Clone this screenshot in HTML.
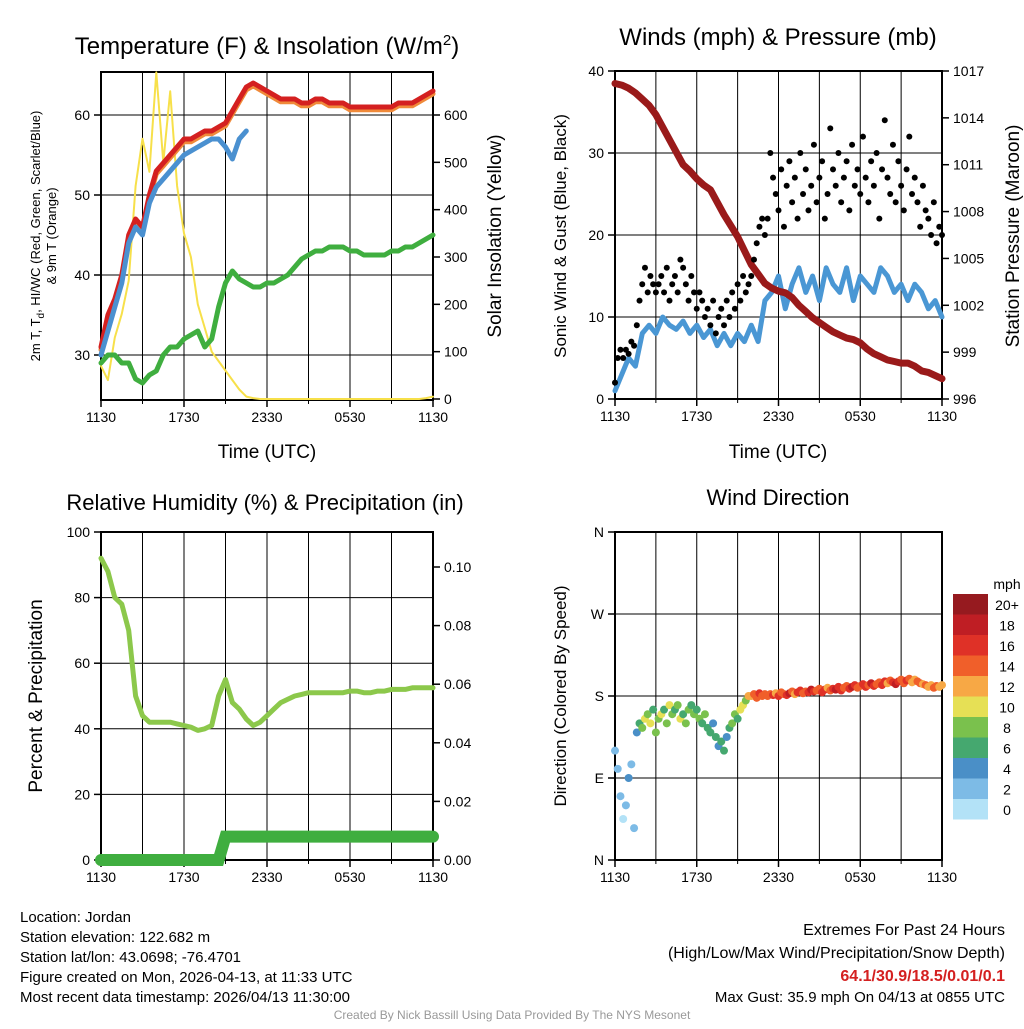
<!DOCTYPE html>
<html><head><meta charset="utf-8"><style>
body{margin:0;background:#fff;width:1024px;height:1024px;overflow:hidden;font-family:"Liberation Sans",sans-serif}
svg text{font-family:"Liberation Sans",sans-serif}
</style></head><body>
<svg id="s" width="1024" height="1024" viewBox="0 0 1024 1024" xmlns="http://www.w3.org/2000/svg"></svg>
<script>
const xTickLabels=["1130","1730","2330","0530","1130"];
const tempT=[31,35,37,40,45,47,46,50,53,54,55,56,57,57,57.5,58,58,58.5,59,60.5,62,63.5,64,63.5,63,62.5,62,62,62,61.5,61.5,62,62,61.5,61.5,61.5,61,61,61,61,61,61,61,61.5,61.5,61.5,62,62.5,63];
const heatIdx=[30,33,36,39,44,46,45,49,51,52,53,54,55,55.5,56,56.5,57,57,56,54.5,57,58];
const dewT=[29,30,30,29,29,27,26.5,27.5,28,30,31,31,32,32.5,33,31,32,36,39,40.5,39.5,39,38.5,38.5,39,39,39.5,40,41,42,42.5,43,43,43.5,43.5,43.5,43,43,42.5,42.5,42.5,42.5,43,43,43.5,43.5,44,44.5,45];
const solar=[70,40,130,180,250,450,550,480,690,500,650,450,350,300,200,150,100,80,60,40,20,5,2,0,0,0,0,0,0,0,0,0,0,0,0,0,0,0,0,0,0,0,0,0,0,0,0,2,5];
const pressure=[1016.2,1016.1,1015.9,1015.6,1015.2,1014.8,1014.2,1013.4,1012.6,1011.8,1011,1010.6,1010.1,1009.7,1009.4,1008.6,1007.8,1007.1,1006.4,1005.5,1004.6,1004,1003.4,1003.1,1002.9,1002.8,1002.5,1002,1001.6,1001.2,1000.9,1000.6,1000.3,1000.1,999.9,999.8,999.6,999.2,998.9,998.7,998.5,998.4,998.3,998.3,998.1,997.8,997.7,997.5,997.3];
const sonicWind=[1,3,5,4,8,9,8,10,9,8.5,9.5,8,9,7.5,8.5,6.5,8,6.5,8,7,9,7,12,13,15,11,14,16,13,15,12,16,14,13,16,12,15,14,13,16,15,13,14,12,14,13,11,12,10];
const gust=[2,5,6,5,6,5.5,7,6.5, 9,12,14,16,13,15,14,13, 14,15,13,16,12,14,15,13,17,16,14,12,15,13, 11,13,12,10,11,9,12,8,10,11, 9,12,10,13,11,14,12,15,13,14, 15,17,19,21,22,20,
22,30,27,25,23,28,21,26,29,24,27,22,30,25,28,23,26,31,24,27,29,22,25,33,28,26,30,24,27,29,23,31,26,28,25,32,27,24,29,26,30,22,28,34,27,25,31,24,29,26,23,28,32,25,27,24,21,26,23,22,20,24,19,21,20];
const rh=[92,88,80,78,70,50,44,42,42,42,42,41.5,41,40.5,39.5,40,41,50,55,48,46,43,41,42,44,46,48,49,50,50.5,51,51,51,51,51,51,51.5,51.5,51,51,51.5,51.5,52,52,52,52.5,52.5,52.5,52.5];
const precip=[0,0,0,0,0,0,0,0,0,0,0,0,0,0,0,0,0,0,0.008,0.008,0.008,0.008,0.008,0.008,0.008,0.008,0.008,0.008,0.008,0.008,0.008,0.008,0.008,0.008,0.008,0.008,0.008,0.008,0.008,0.008,0.008,0.008,0.008,0.008,0.008,0.008,0.008,0.008,0.008];
const windDir=[120,100,70,45,60,90,105,35, 140,150,145,155,160,150,165,140, 155,160,165,150,170,160,165,170,155,160,150,165,170,160, 165,155,150,160,145,140,150,135,125,130, 120,135,145,150,160,155,165,170,175,180, 180,182,178,183,180,182,
180,182,181,183,180,184,182,181,183,185,182,184,186,183,185,184,187,185,186,188,184,187,189,186,188,187,190,186,189,191,188,190,192,189,191,193,190,192,194,191,193,195,192,196,194,197,195,193,196,198,194,197,199,195,198,196,194,193,192,190,192,189,191,190,192];
const windSpd=[2,3,2,1,3,4,2,3, 5,7,9,10,8,11,7,9, 8,10,7,9,11,8,6,9,10,7,8,9,6,8, 7,8,6,9,7,6,5,7,5,6, 6,5,7,8,9,7,10,11,9,12, 13,14,15,16,14,15,
14,15,16,13,17,15,14,16,18,15,13,16,17,14,15,16,18,17,15,14,16,17,13,15,16,18,17,16,15,14,17,18,16,15,14,16,17,15,18,16,14,15,17,16,13,15,16,18,17,15,14,16,15,13,12,14,15,13,14,12,13,15,14,12,13];
const spdLabels=["0","2","4","6","8","10","12","14","16","18","20+"];
const spdColors=["#b3e2f7","#7dbbe6","#4a8fc7","#45a86f","#7ac14d","#e6e055","#f7a845","#f05f2a","#df3127","#bf1e24","#961a1f"];

const S=document.getElementById('s');const NS='http://www.w3.org/2000/svg';
function el(tag,at,parent){const e=document.createElementNS(NS,tag);for(const k in at)e.setAttribute(k,at[k]);(parent||S).appendChild(e);return e;}
function txt(x,y,s,size,anchor,extra){const e=el('text',Object.assign({x:x,y:y,'font-size':size,'text-anchor':anchor||'middle',fill:'#000'},extra||{}));e.textContent=s;return e;}
function panel(x0,x1,y0,y1){return {x0,x1,y0,y1,xs:t=>x0+(x1-x0)*t/24};}
function lin(v0,p0,v1,p1){return v=>p0+(v-v0)*(p1-p0)/(v1-v0);}
function path(arr,xs,ys,step,style,name){let d='';arr.forEach((v,i)=>{d+=(i?'L':'M')+xs(i*step).toFixed(1)+','+ys(v).toFixed(1);});const p=el('path',Object.assign({d:d,fill:'none','stroke-linejoin':'round','stroke-linecap':'round'},style));return p;}
function frame(P,yTicksL,ysL,labL,yTicksR,ysR,labR,gridL,name){
  const g=el('g',{});
  for(let h=3;h<24;h+=3){const x=P.xs(h);el('line',{x1:x,x2:x,y1:P.y0,y2:P.y1,stroke:'#000','stroke-width':1},g);}
  if(gridL)yTicksL.forEach(v=>{const y=ysL(v);el('line',{x1:P.x0,x2:P.x1,y1:y,y2:y,stroke:'#000','stroke-width':1},g);});
  el('rect',{x:P.x0,y:P.y0,width:P.x1-P.x0,height:P.y1-P.y0,fill:'none',stroke:'#000','stroke-width':2},g);
  yTicksL.forEach((v,i)=>{const y=ysL(v);el('line',{x1:P.x0-7,x2:P.x0,y1:y,y2:y,stroke:'#000','stroke-width':1.5},g);txt(P.x0-11,y+5,labL[i],14,'end');});
  if(yTicksR)yTicksR.forEach((v,i)=>{const y=ysR(v);el('line',{x1:P.x1,x2:P.x1+7,y1:y,y2:y,stroke:'#000','stroke-width':1.5},g);txt(P.x1+11,y+5,labR[i],14,'start');});
  xTickLabels.forEach((l,i)=>{const x=P.xs(i*6);el('line',{x1:x,x2:x,y1:P.y1,y2:P.y1+7,stroke:'#000','stroke-width':1.5},g);txt(x,P.y1+22,l,14);});
  for(let h=3;h<24;h+=6){const x=P.xs(h);el('line',{x1:x,x2:x,y1:P.y1,y2:P.y1+4,stroke:'#000','stroke-width':1},g);}
}
// Panel 1
const P1=panel(101,433,72,400);const y1L=lin(30,355,60,115);const y1R=lin(0,399,600,115);
frame(P1,[30,40,50,60],y1L,["30","40","50","60"],[0,100,200,300,400,500,600],y1R,["0","100","200","300","400","500","600"],true,'temperature-axes');
path(solar,P1.xs,y1R,0.5,{stroke:'#f7e04a','stroke-width':2},'solar-line');
path(dewT,P1.xs,y1L,0.5,{stroke:'#3fae3f','stroke-width':5},'dewpoint-line');
path(tempT.map(v=>v-0.35),P1.xs,y1L,0.5,{stroke:'#f08a3a','stroke-width':5},'temp-9m-line');
path(tempT,P1.xs,y1L,0.5,{stroke:'#d42020','stroke-width':5},'temp-2m-line');
path(heatIdx,P1.xs,y1L,0.5,{stroke:'#4a90d0','stroke-width':5},'heat-index-line');
txt(267,54,'',24).innerHTML='Temperature (F) &amp; Insolation (W/m<tspan dy="-9" font-size="15">2</tspan><tspan dy="9">)</tspan>';
txt(267,458,'Time (UTC)',19);
const yl=txt(0,0,'',13,'middle',{transform:'translate(40,236) rotate(-90)'});yl.innerHTML='2m T, T<tspan dy="4" font-size="10">d</tspan><tspan dy="-4">, HI/WC (Red, Green, Scarlet/Blue)</tspan>';
txt(0,0,'& 9m T (Orange)',13,'middle',{transform:'translate(56,236) rotate(-90)'});
txt(0,0,'Solar Insolation (Yellow)',19,'middle',{transform:'translate(501,236) rotate(-90)'});
// Panel 2
const P2=panel(615,942,71,399);const y2L=lin(0,399,40,71);const y2R=lin(996,399,1017,71);
frame(P2,[0,10,20,30,40],y2L,["0","10","20","30","40"],[996,999,1002,1005,1008,1011,1014,1017],y2R,["996","999","1002","1005","1008","1011","1014","1017"],true,'wind-axes');
path(sonicWind,P2.xs,y2L,0.5,{stroke:'#4a97d4','stroke-width':5},'sonic-wind-line');
path(pressure,P2.xs,y2R,0.5,{stroke:'#9a1a1a','stroke-width':7},'pressure-line');
gust.forEach((v,i)=>{const c=el('circle',{cx:P2.xs(i*0.2),cy:y2L(v),r:3,fill:'#000'});

});
txt(778,45,'Winds (mph) & Pressure (mb)',24);
txt(778,458,'Time (UTC)',19);
txt(0,0,'Sonic Wind & Gust (Blue, Black)',17,'middle',{transform:'translate(566,236) rotate(-90)'});
txt(0,0,'Station Pressure (Maroon)',19,'middle',{transform:'translate(1019,236) rotate(-90)'});
// Panel 3
const P3=panel(101,433,532,860);const y3L=lin(0,860,100,532);const y3R=lin(0,860,0.10,567);
frame(P3,[0,20,40,60,80,100],y3L,["0","20","40","60","80","100"],[0,0.02,0.04,0.06,0.08,0.10],y3R,["0.00","0.02","0.04","0.06","0.08","0.10"],true,'humidity-axes');
path(rh,P3.xs,y3L,0.5,{stroke:'#8cc84b','stroke-width':5},'rh-line');
path(precip,P3.xs,y3R,0.5,{stroke:'#3fae3f','stroke-width':12,'stroke-linejoin':'miter'},'precip-line');
txt(265,510,'Relative Humidity (%) & Precipitation (in)',22);
txt(0,0,'Percent & Precipitation',19,'middle',{transform:'translate(42,696) rotate(-90)'});
// Panel 4
const P4=panel(615,942,532,860);const y4=lin(0,860,360,532);
frame(P4,[0,90,180,270,360],y4,["N","E","S","W","N"],null,null,null,true,'direction-axes');
windDir.forEach((v,i)=>{const b=Math.min(10,Math.floor(windSpd[i]/2));const c=el('circle',{cx:P4.xs(i*0.2),cy:y4(v),r:4,fill:spdColors[b]});

});
txt(778,505,'Wind Direction',22);
txt(0,0,'Direction (Colored By Speed)',17,'middle',{transform:'translate(566,696) rotate(-90)'});
// colorbar
txt(1007,589,'mph',14);
spdColors.forEach((c,i)=>{const y=799-i*20.5;const r=el('rect',{x:953,y:y,width:35,height:20.5,fill:c});


txt(1007,y+16,spdLabels[i],14);});
</script>
<svg width="1024" height="1024" style="position:absolute;left:0;top:0">
<g font-size="15" font-family="Liberation Sans, sans-serif">
<text x="20" y="922" style="fill:#000">Location: Jordan</text>
<text x="20" y="942" style="fill:#000">Station elevation: 122.682 m</text>
<text x="20" y="962" style="fill:#000">Station lat/lon: 43.0698; -76.4701</text>
<text x="20" y="982" style="fill:#000">Figure created on Mon, 2026-04-13, at 11:33 UTC</text>
<text x="20" y="1002" style="fill:#000">Most recent data timestamp: 2026/04/13 11:30:00</text>
<text x="1005" y="935" text-anchor="end" font-size="16" style="fill:#000">Extremes For Past 24 Hours</text>
<text x="1005" y="958" text-anchor="end" font-size="16" style="fill:#000">(High/Low/Max Wind/Precipitation/Snow Depth)</text>
<text x="1005" y="981" text-anchor="end" font-size="16" font-weight="bold" style="fill:#d42020">64.1/30.9/18.5/0.01/0.1</text>
<text x="1005" y="1002" text-anchor="end" font-size="15" style="fill:#000">Max Gust: 35.9 mph On 04/13 at 0855 UTC</text>
<text x="512" y="1019" text-anchor="middle" font-size="12" style="fill:#999">Created By Nick Bassill Using Data Provided By The NYS Mesonet</text>
</g></svg>
</body></html>
